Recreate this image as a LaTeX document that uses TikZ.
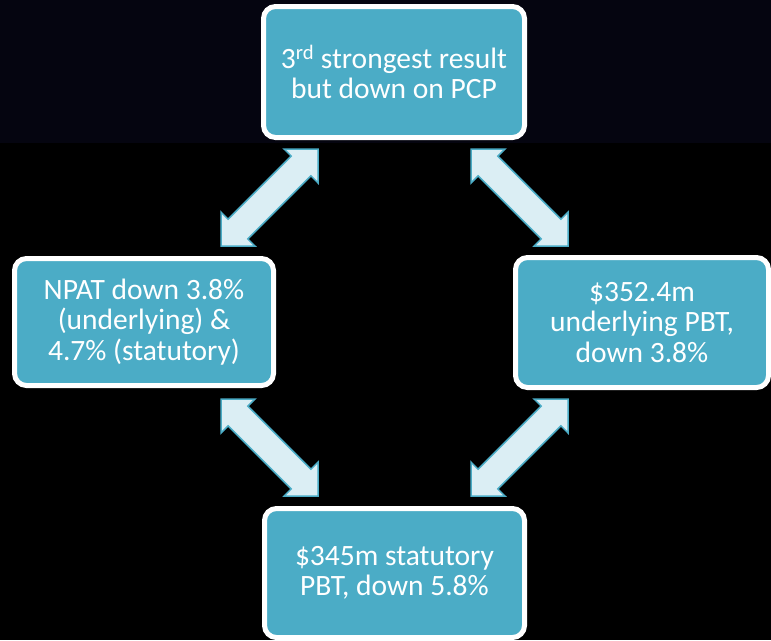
\documentclass[tikz,border=0pt]{standalone}
\usepackage{fontspec}
\setmainfont{Carlito}
\usetikzlibrary{calc}
\definecolor{teal1}{HTML}{4BACC6}
\definecolor{pale}{HTML}{DBEEF4}
\definecolor{navy}{RGB}{5,5,16}
\tikzset{
  box/.style={draw=white, line width=5pt, fill=teal1, rounded corners=12pt,
    text=white, align=center, inner sep=0pt,
    font=\fontsize{29.5}{30.5}\selectfont},
  blockarrow/.style={draw=teal1, line width=1.5pt, fill=pale, line join=miter},
}
\newcommand{\dblarrow}[2]{%
  \draw[blockarrow] (#1) -- ($(#1)!33.94pt!45:(#2)$) -- ($(#1)!27.78pt!30.26:(#2)$)
    -- ($(#2)!27.78pt!-30.26:(#1)$) -- ($(#2)!33.94pt!-45:(#1)$) -- (#2)
    -- ($(#2)!33.94pt!45:(#1)$) -- ($(#2)!27.78pt!30.26:(#1)$)
    -- ($(#1)!27.78pt!-30.26:(#2)$) -- ($(#1)!33.94pt!-45:(#2)$) -- cycle;}
\begin{document}
\begin{tikzpicture}[x=1pt,y=-1pt]
  \fill[black] (0,0) rectangle (771,640);
  \fill[navy] (0,0) rectangle (771,143);
  \useasboundingbox (0,0) rectangle (771,640);
  \node[box, minimum width=261pt, minimum height=131pt] (top) at (394,72)
    {3\textsuperscript{rd} strongest result\\but down on PCP};
  \node[box, minimum width=259pt, minimum height=127pt] (left) at (144,322)
    {NPAT down 3.8\%\\(underlying) \&\\4.7\% (statutory)};
  \node[box, minimum width=253pt, minimum height=130pt] (right) at (642,322.5)
    {\$352.4m\\underlying PBT,\\down 3.8\%};
  \node[box, minimum width=260pt, minimum height=129pt] (bottom) at (394.5,573)
    {\$345m statutory\\PBT, down 5.8\%};
  \coordinate (a1) at (318,149);
  \coordinate (a2) at (221,246);
  \coordinate (a3) at (471,149);
  \coordinate (a4) at (568,246);
  \coordinate (a5) at (221,399);
  \coordinate (a6) at (318,496);
  \coordinate (a7) at (568,399);
  \coordinate (a8) at (471,496);
  \dblarrow{a1}{a2}
  \dblarrow{a3}{a4}
  \dblarrow{a5}{a6}
  \dblarrow{a7}{a8}
\end{tikzpicture}
\end{document}
